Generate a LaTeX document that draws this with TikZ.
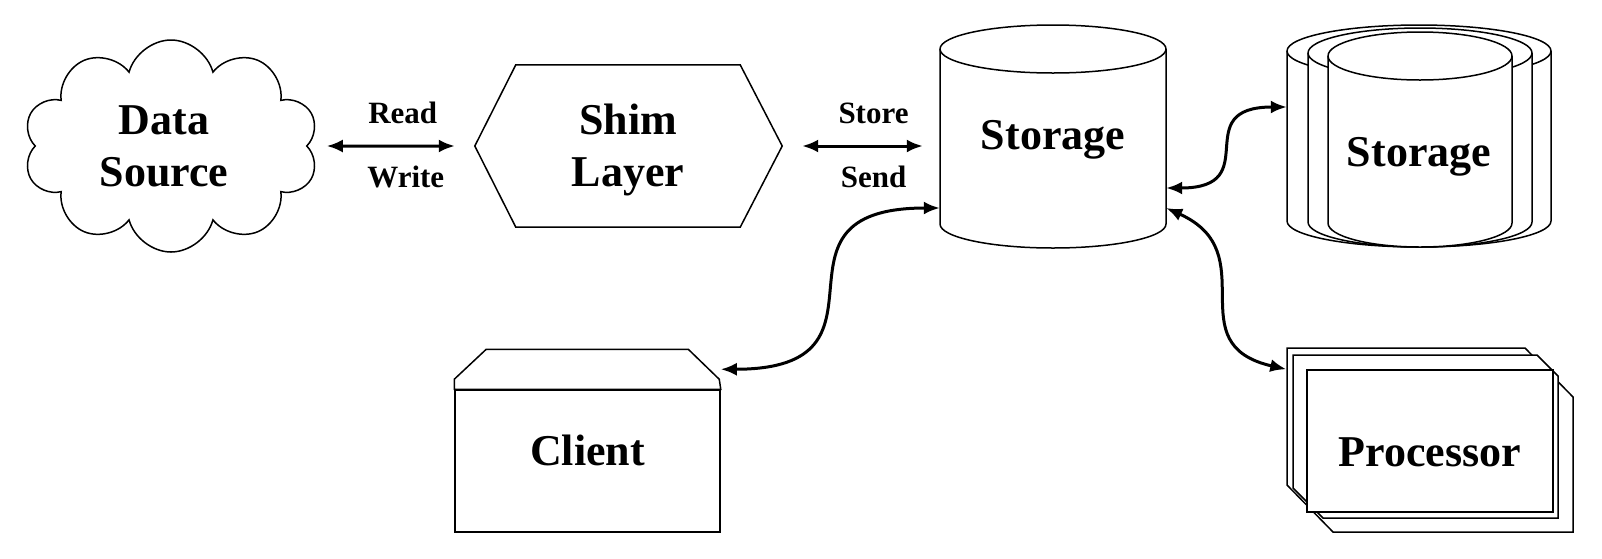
\documentclass[tikz,border=0pt]{standalone}
\usepackage{fontspec}
\setmainfont{Liberation Serif}
\usetikzlibrary{shapes.symbols, arrows.meta}

\begin{document}
\begin{tikzpicture}[
        x=1pt, y=-1pt,
        every node/.style={font=\bfseries\fontsize{44}{52}\selectfont, align=center},
        tag/.style={font=\bfseries\fontsize{31}{34}\selectfont},
        box/.style={draw, line width=1.5pt, fill=white},
        link/.style={{Latex[length=16pt,width=13pt]}-{Latex[length=16pt,width=13pt]}, line width=3pt}
    ]
    \useasboundingbox (0,0) rectangle (1602,558);

    \node (src) [box, cloud, cloud puffs=10, cloud ignores aspect, minimum width=295pt, minimum height=212pt,
        label={[xshift=-7pt]center:Data\\Source}] at (171,146) {};

    \node (shim) [minimum width=224pt, minimum height=162pt, label={[yshift=-4pt]center:Shim\\Layer}] at (628,146) {};
    \draw[box, fill=none] (shim.north west) -- (shim.north east) -- ([xshift=42pt]shim.east) -- (shim.south east)
        -- (shim.south west) -- ([xshift=-41pt]shim.west) -- cycle;

    \draw[box] (940,49) -- (940,224) arc[start angle=180, end angle=360, x radius=113pt, y radius=24pt]
        -- (1166,49) arc[start angle=0, end angle=180, x radius=113pt, y radius=24pt] -- cycle;
    \draw[box, fill=none] (940,49) arc[start angle=180, end angle=360, x radius=113pt, y radius=24pt];
    \node (stor) [minimum width=226pt] at (1053,140) {Storage};

    \draw[box] (1287,51) -- (1287,221) arc[start angle=180, end angle=360, x radius=132pt, y radius=26pt]
        -- (1551,51) arc[start angle=0, end angle=180, x radius=132pt, y radius=26pt] -- cycle;
    \draw[box, fill=none] (1287,51) arc[start angle=180, end angle=360, x radius=132pt, y radius=26pt];
    \draw[box] (1308,53) -- (1308,222) arc[start angle=180, end angle=360, x radius=112pt, y radius=25pt]
        -- (1532,53) arc[start angle=0, end angle=180, x radius=112pt, y radius=25pt] -- cycle;
    \draw[box, fill=none] (1308,53) arc[start angle=180, end angle=360, x radius=112pt, y radius=25pt];
    \draw[box] (1328,56) -- (1328,223) arc[start angle=180, end angle=360, x radius=92pt, y radius=24pt]
        -- (1512,56) arc[start angle=0, end angle=180, x radius=92pt, y radius=24pt] -- cycle;
    \draw[box, fill=none] (1328,56) arc[start angle=180, end angle=360, x radius=92pt, y radius=24pt];
    \node (rep) [minimum width=264pt] at (1419,157) {Storage};

    \node (cli) [box, minimum width=265pt, minimum height=142pt, label={[yshift=11pt]center:Client}] at (587.5,461) {};
    \draw[box] (cli.north west) -- ++(0,-10) -- ++(32,-30) -- ++(202,0) -- ++(31,30) -- (cli.north east) -- cycle;

    \draw[box] (1287,348) -- (1525,348) -- (1573,397) -- (1573,532) -- (1333,532) -- (1287,485) -- cycle;
    \draw[box] (1293,355) -- (1537,355) -- (1558,376) -- (1558,518) -- (1323,518) -- (1293,488) -- cycle;
    \node (proc) [box, minimum width=246pt, minimum height=142pt, label={[yshift=-11pt]center:Processor}] at (1430,441) {};

    \draw[link] ([xshift=19pt]src.east) -- ([xshift=-61pt]shim.west)
        node[tag, midway, above=17.5pt, xshift=12pt] {Read}
        node[tag, midway, below=15pt, xshift=15pt] {Write};
    \draw[link] ([xshift=62pt]shim.east) -- ([xshift=-17pt]shim.east -| stor.west)
        node[tag, midway, above=17.5pt, xshift=11pt] {Store}
        node[tag, midway, below=15pt, xshift=11pt] {Send};
    \draw[link] ([yshift=-48pt]stor.east) .. controls +(100,0) and +(-100,0) .. ([yshift=50pt]rep.west);
    \draw[link] ([yshift=-68pt]stor.east) .. controls +(100,45) and +(-110,-25) .. ([xshift=-20pt]proc.north west);
    \draw[link] ([yshift=-68pt]stor.west) .. controls +(-190,0) and +(190,0) .. ([yshift=20pt]cli.north east);
\end{tikzpicture}
\end{document}
